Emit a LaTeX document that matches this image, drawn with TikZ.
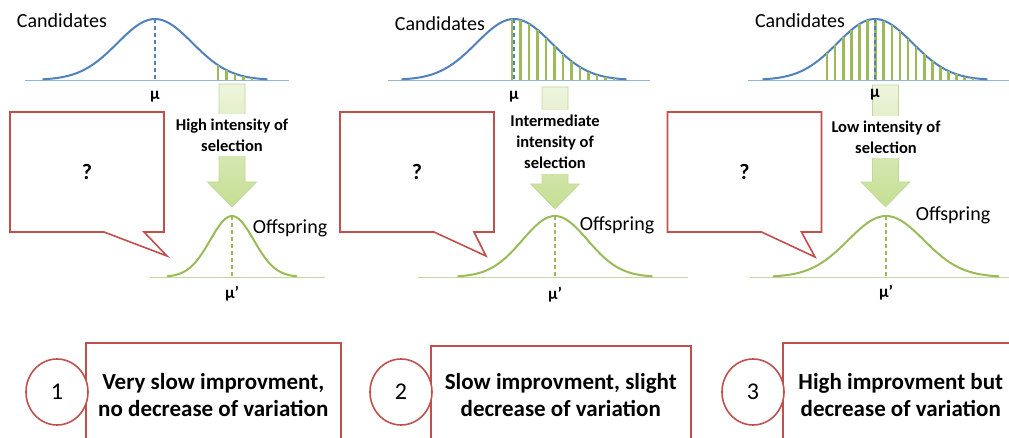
\documentclass[tikz,border=0pt]{standalone}
\usepackage{fontspec}
\setmainfont{Carlito}
\usetikzlibrary{shapes.geometric,shapes.callouts}

\definecolor{candblue}{HTML}{4F81BD}
\definecolor{axisblue}{HTML}{95B3D7}
\definecolor{offgreen}{HTML}{9BBB59}
\definecolor{axisgreen}{HTML}{C3D69B}
\definecolor{arrowtop}{HTML}{EEF5DE}
\definecolor{arrowbot}{HTML}{C4DE92}
\definecolor{boxred}{HTML}{C0504D}

\tikzset{
  curvecand/.style={candblue, line width=2pt},
  curveoff/.style={offgreen, line width=2pt},
  meanline/.style={line width=2.2pt, dash pattern=on 4pt off 3pt},
  axisline/.style={line width=0.9pt},
  selbar/.style={offgreen, line width=2.6pt},
  selarrow/.style={draw=axisgreen, line width=0.6pt, top color=arrowtop, bottom color=arrowbot},
  seltext/.style={fill=white, font=\bfseries\fontsize{16.5}{21}\selectfont, align=center, inner xsep=3pt, inner ysep=5pt},
  curvelabel/.style={font=\fontsize{20}{24}\selectfont, inner sep=0pt},
  meanlabel/.style={font=\bfseries\fontsize{17}{20}\selectfont, inner sep=0pt},
  question/.style={rectangle callout, draw=boxred, line width=1.6pt, fill=white,
    minimum width=154pt, minimum height=120pt, callout pointer width=40pt,
    font=\bfseries\fontsize{22}{26}\selectfont},
  numcircle/.style={ellipse, draw=boxred, line width=1.6pt, fill=white,
    minimum width=62pt, minimum height=66pt, inner sep=0pt, font=\fontsize{24}{28}\selectfont},
  resultbox/.style={rectangle, draw=boxred, line width=1.6pt, fill=white, anchor=north west,
    align=center, font=\bfseries\fontsize{23}{27}\selectfont}
}

\begin{document}
\begin{tikzpicture}[x=1pt, y=-1pt]
\useasboundingbox (0,0) rectangle (1009,438);
\clip (0,0) rectangle (1009,438);

% candidates: axis and bell curve
\foreach \m/\l/\r in {155/25/289, 514/388/650, 875/748/1009}{
  \draw[axisline, axisblue] (\l,80) -- (\r,80);
  \draw[curvecand] plot[domain=-3:3, samples=61, smooth] ({\m+37.5*\x}, {80-61*exp(-\x*\x/2)});
}

% selected part of the candidates
\foreach \m/\first/\second/\last in {155/218/226.5/252, 514/512/520.5/614, 875/827/835.1/973}{
  \foreach \b in {\first,\second,...,\last}
    \draw[selbar] (\b,80) -- (\b,{80-61*exp(-0.5*((\b-\m)/37.5)^2)});
  \draw[meanline, candblue] (\m,19) -- (\m,80);
}

% block arrows down to the offspring
\foreach \c/\t/\h in {232/84/207, 555/87/209, 885.5/85/207}
  \path[selarrow] (\c-13,\t) -- (\c-13,\h-25) -- (\c-24.5,\h-25) -- (\c,\h)
    -- (\c+24.5,\h-25) -- (\c+13,\h-25) -- (\c+13,\t) -- cycle;

\node[curvelabel] (cand1) at (62,21) {Candidates};
\node[curvelabel] (cand2) at (440,24) {Candidates};
\node[curvelabel] (cand3) at (800,21) {Candidates};
\node[meanlabel] (mu1) at (155,97) {μ};
\node[meanlabel] (mu2) at (514,97) {μ};
\node[meanlabel] (mu3) at (875,95) {μ};

\node[seltext] (sel1) at (232,135) {High intensity of\\selection};
\node[seltext] (sel2) at (555,142) {Intermediate\\intensity of\\selection};
\node[seltext] (sel3) at (886,137) {Low intensity of\\selection};

% offspring: axis, bell curve and mean
\foreach \m/\s/\l/\r in {232/21.7/150/325, 555/32.5/418/688, 886/37.7/750/1009}{
  \draw[axisline, axisgreen] (\l,277) -- (\r,277);
  \draw[curveoff] plot[domain=-3:3, samples=61, smooth] ({\m+\s*\x}, {277-61*exp(-\x*\x/2)});
  \draw[meanline, offgreen] (\m,216) -- (\m,277);
}

\node[curvelabel] (off1) at (290,228) {Offspring};
\node[curvelabel] (off2) at (617,225) {Offspring};
\node[curvelabel] (off3) at (953,215) {Offspring};
\node[meanlabel] (mup1) at (232,294) {μ’};
\node[meanlabel] (mup2) at (555,295) {μ’};
\node[meanlabel] (mup3) at (886,293) {μ’};

% question callouts
\node[question, callout absolute pointer={(167,256)}] (q1) at (87,172) {?};
\node[question, callout absolute pointer={(486,256)}] (q2) at (417,172) {?};
\node[question, callout absolute pointer={(815,257)}] (q3) at (744.5,172) {?};

% outcomes
\node[resultbox, minimum width=255pt, minimum height=104pt] (res1) at (85,342)
  {Very slow improvment,\\no decrease of variation};
\node[resultbox, minimum width=260pt, minimum height=98pt] (res2) at (430,345)
  {Slow improvment, slight\\decrease of variation};
\node[resultbox, minimum width=236pt, minimum height=104pt] (res3) at (782,342)
  {High improvment but\\decrease of variation};

\node[numcircle] (n1) at (57,392) {1};
\node[numcircle] (n2) at (401,392) {2};
\node[numcircle] (n3) at (753,392) {3};
\end{tikzpicture}
\end{document}
